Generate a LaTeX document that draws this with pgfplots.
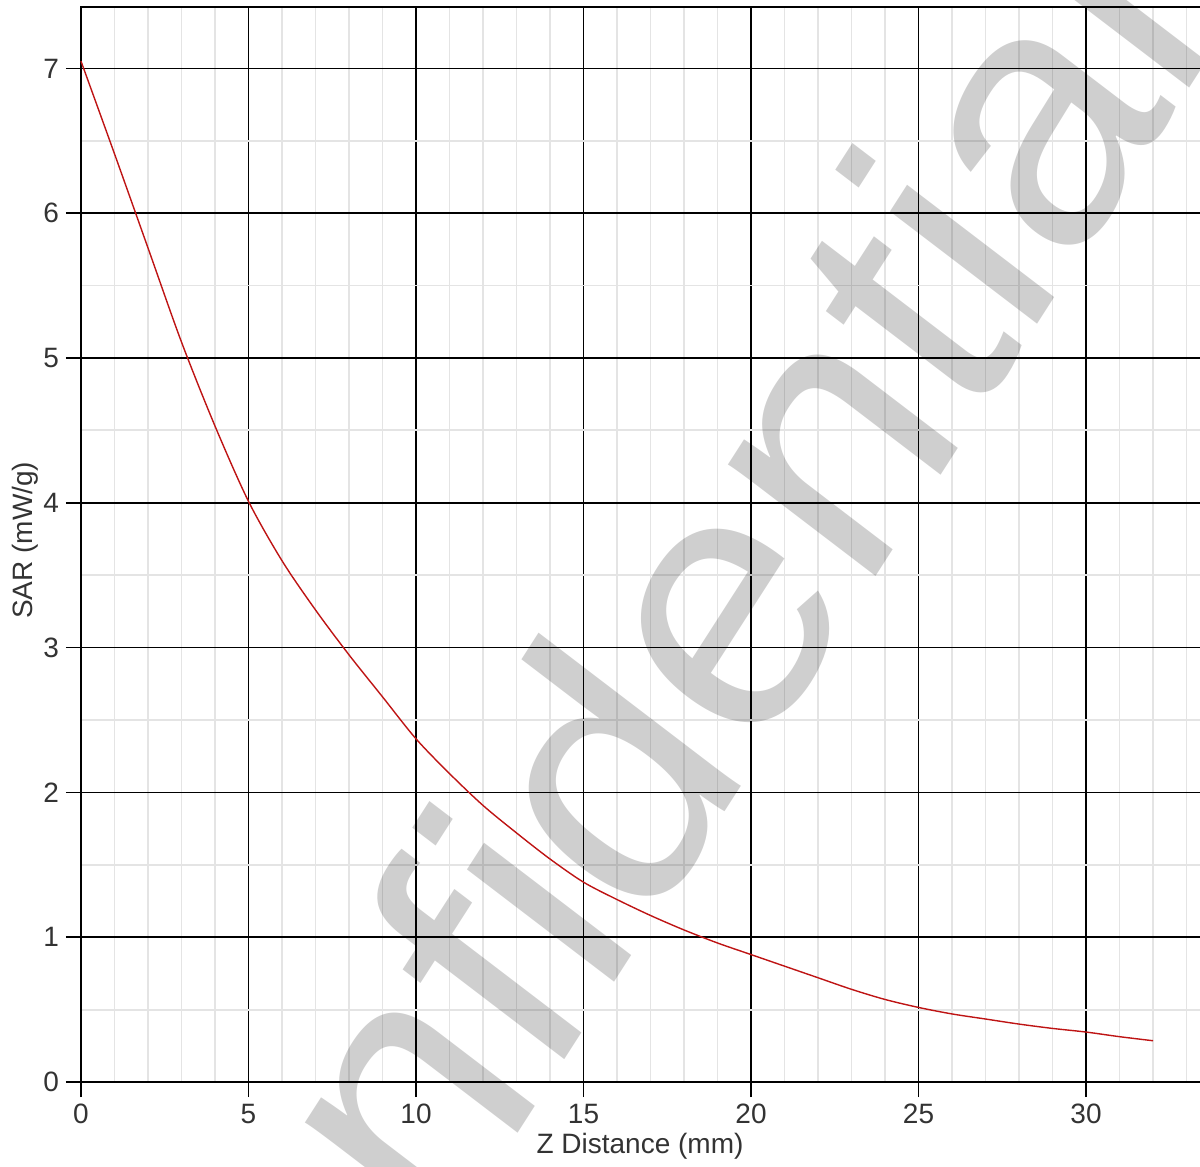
\documentclass[border=0pt]{standalone}
\usepackage{fontspec}
\setmainfont{Liberation Sans}
\usepackage{pgfplots}
\pgfplotsset{compat=1.18}
\definecolor{curvered}{RGB}{190,20,20}
\definecolor{minorgrid}{RGB}{228,228,228}
\begin{document}
\begin{tikzpicture}
\begin{axis}[
  scale only axis, width=565pt, height=537.5pt,
  xmin=0, xmax=33.73, ymin=0, ymax=7.424,
  xtick={0,5,...,30}, ytick={0,1,...,7},
  minor xtick={1,2,...,33}, minor ytick={0.5,1.5,...,7.5},
  grid=both,
  major grid style={black, line width=0.8pt},
  minor grid style={minorgrid, line width=0.9pt},
  tick align=outside, major tick length=7.5pt, minor tick length=0pt,
  xtick pos=left, ytick pos=left,
  tick style={black, line width=0.8pt},
  axis line style={black, line width=0.8pt},
  clip=false,
  /pgf/number format/assume math mode=true,
  tick label style={font=\fontsize{14}{16}\selectfont, text=black!80},
  label style={font=\fontsize{14}{16}\selectfont, text=black!80},
  xlabel={Z Distance (mm)},
  ylabel={SAR (mW/g)},
  xlabel style={at={([yshift=-32pt]axis description cs:0.4947,0)}, anchor=center},
  ylabel style={at={([xshift=-28pt]axis description cs:0,0.504)}, anchor=center},
]
\coordinate (O) at (rel axis cs:0,0);
\node[yscale=1.09, rotate=55, anchor=base, text=black, opacity=0.19, inner sep=0pt,
      font=\fontsize{170}{170}\selectfont] at ([xshift=312pt,yshift=120pt]rel axis cs:0,0) {Confidential};
\addplot[curvered, line width=0.7pt, smooth] coordinates {
(0,7.05) (1,6.41) (2,5.76) (3,5.11) (4,4.53) (5,4.01) (6,3.60) (7,3.26)
(8,2.95) (9,2.66) (10,2.37) (11,2.13) (12,1.91) (13,1.72) (14,1.54)
(15,1.38) (16,1.26) (17,1.15) (18,1.05) (19,0.96) (20,0.88) (21,0.80)
(22,0.72) (23,0.64) (24,0.57) (25,0.515) (26,0.47) (27,0.435) (28,0.40)
(29,0.37) (30,0.345) (31,0.313) (32,0.285)
};
\end{axis}
\pgfresetboundingbox
\path ([xshift=-40.5pt,yshift=-42.5pt]O) rectangle ([xshift=559.5pt,yshift=541pt]O);
\end{tikzpicture}
\end{document}
